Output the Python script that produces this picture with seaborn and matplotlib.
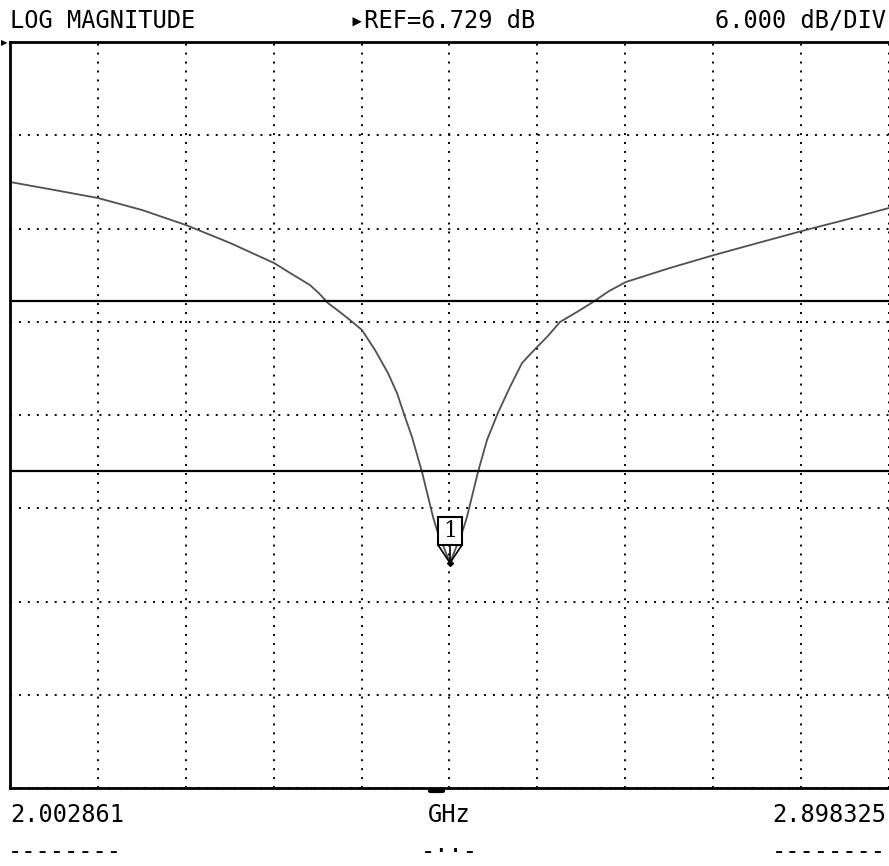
import numpy as np
import matplotlib
matplotlib.use("Agg")
import matplotlib.pyplot as plt
import matplotlib.transforms as mtransforms
from matplotlib.patches import Rectangle
import seaborn as sns

# Analyzer settings
START_GHZ = 2.002861
STOP_GHZ = 2.898325
REF_DB = 6.729
DB_PER_DIV = 6.0
N_YDIV = 8
N_XDIV = 10

# Limit lines (dB)
limit_upper = -9.95
limit_lower = -20.9

# Trace
freq_ghz = [2.0029, 2.0477, 2.0925, 2.1373, 2.1822, 2.2270, 2.2718, 2.2881,
            2.3085, 2.3178, 2.3268, 2.3380, 2.3492, 2.3614, 2.3747, 2.3879,
            2.3971, 2.4053, 2.4124, 2.4226, 2.4338, 2.4378, 2.4511, 2.4643,
            2.4684, 2.4796, 2.4888, 2.4999, 2.5122, 2.5244, 2.5397, 2.5499,
            2.5631, 2.5805, 2.5968, 2.6130, 2.6304, 2.6752, 2.7200, 2.7649,
            2.8097, 2.8535, 2.8983]
mag_db = [-2.28, -2.79, -3.31, -4.08, -5.05, -6.20, -7.49, -8.13,
          -8.91, -9.45, -10.07, -10.60, -11.16, -11.80, -13.09, -14.57,
          -15.86, -17.40, -18.69, -20.94, -23.83, -24.67, -26.79, -24.67,
          -23.83, -20.94, -18.88, -17.14, -15.47, -13.93, -12.90, -12.25,
          -11.29, -10.64, -10.00, -9.30, -8.71, -7.81, -6.98, -6.20,
          -5.43, -4.72, -3.95]

sns.set_style("white")
plt.rcParams["font.family"] = ["DejaVu Sans Mono", "DejaVu Sans"]
plt.rcParams["text.color"] = "black"

fig = plt.figure(figsize=(8.89, 8.66), dpi=100)
ax = fig.add_axes([10 / 889, 78 / 866, 879 / 889, 746 / 866])

sns.lineplot(x=freq_ghz, y=mag_db, ax=ax, color="#505050", linewidth=1.3)

ax.axhline(limit_upper, color="black", linewidth=1.6, zorder=3)
ax.axhline(limit_lower, color="black", linewidth=1.6, zorder=3)

ax.set_xlim(START_GHZ, STOP_GHZ)
ax.set_ylim(REF_DB - N_YDIV * DB_PER_DIV, REF_DB)
ax.set_xticks(np.linspace(START_GHZ, STOP_GHZ, N_XDIV + 1))
ax.set_yticks(np.linspace(REF_DB - N_YDIV * DB_PER_DIV, REF_DB, N_YDIV + 1))
ax.grid(True, color="black", linestyle=(0, (1, 3.6)), linewidth=1.4)
ax.tick_params(length=0, labelbottom=False, labelleft=False)
ax.set_xlabel("")
ax.set_ylabel("")
for side in ["left", "top", "bottom"]:
    ax.spines[side].set_color("black")
    ax.spines[side].set_linewidth(2)
ax.spines["right"].set_visible(False)

# Marker 1 at the trace minimum
i_min = int(np.argmin(mag_db))
offset = mtransforms.ScaledTranslation(freq_ghz[i_min], mag_db[i_min], ax.transData)
mtrans = fig.dpi_scale_trans + offset
ax.plot([-0.12, 0, 0.12], [0.18, 0, 0.18], color="black", linewidth=1.2,
        transform=mtrans, clip_on=False, zorder=5)
ax.plot([0, 0], [0, 0.18], color="black", linewidth=1.2, transform=mtrans,
        clip_on=False, zorder=5)
ax.plot([0], [0], marker="D", markersize=3, color="black", transform=mtrans,
        clip_on=False, zorder=6)
ax.add_patch(Rectangle((-0.12, 0.18), 0.24, 0.28, facecolor="white",
                       edgecolor="black", linewidth=1.5, transform=mtrans,
                       zorder=6, clip_on=False))
ax.text(0, 0.315, "1", transform=mtrans, ha="center", va="center",
        fontsize=16, family="DejaVu Serif", zorder=7)

# small bar under the frame
ax.plot([0.478, 0.4926], [-0.004, -0.004], color="black", linewidth=3,
        transform=ax.transAxes, clip_on=False)

# Header and footer texts
fs = 17
fig.text(10 / 889, 1 - 28 / 866, "LOG MAGNITUDE", fontsize=fs, va="baseline", ha="left")
fig.text(350 / 889, 1 - 28 / 866, "\u25B8REF=6.729 dB", fontsize=fs, va="baseline", ha="left")
fig.text(886 / 889, 1 - 28 / 866, "6.000 dB/DIV", fontsize=fs, va="baseline", ha="right")
fig.text(1 / 889, 1 - 43 / 866, "\u25B6", fontsize=6, va="center", ha="left",
         family="DejaVu Sans")

fig.text(10 / 889, 1 - 822 / 866, f"{START_GHZ:.6f}", fontsize=fs, va="baseline", ha="left")
fig.text(449 / 889, 1 - 822 / 866, "GHz", fontsize=fs, va="baseline", ha="center")
fig.text(886 / 889, 1 - 822 / 866, f"{STOP_GHZ:.6f}", fontsize=fs, va="baseline", ha="right")

fig.text(8 / 889, 2 / 866, "--------", fontsize=fs, va="bottom", ha="left")
fig.text(449 / 889, 2 / 866, "-\u00B7\u00B7-", fontsize=fs, va="bottom", ha="center")
fig.text(886 / 889, 2 / 866, "--------", fontsize=fs, va="bottom", ha="right")

fig.savefig("out.png", dpi=100)
